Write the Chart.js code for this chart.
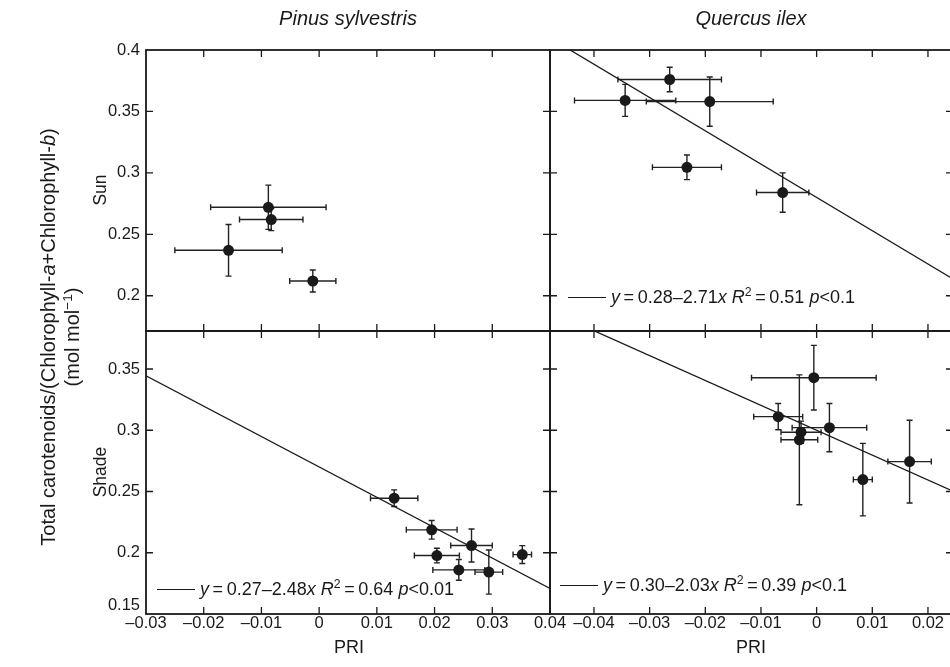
<!DOCTYPE html>
<html>
<head>
<meta charset="utf-8">
<script src="https://cdn.jsdelivr.net/npm/chart.js@4.4.1/dist/chart.umd.min.js"></script>
<style>
  html, body { margin:0; padding:0; background:#fff; width:950px; height:667px; overflow:hidden; }
  canvas { position:absolute; left:0; top:0; pointer-events:none; }
  .t { position:absolute; font-family:"Liberation Sans", Arial, Helvetica, sans-serif; color:#1a1a1a; white-space:nowrap; line-height:1; }
  .c { transform:translate(-50%,-50%); }
  .r { transform:translate(-50%,-50%) rotate(-90deg); text-align:center; }
  .leg { transform:translateY(-50%); font-size:18px; }
  .leg .ln { display:inline-block; width:38px; border-top:1.3px solid #1a1a1a; vertical-align:middle; margin-right:5px; position:relative; top:-1px; }
  sup { font-size:0.68em; line-height:0; vertical-align:0.55em; }
</style>
</head>
<body>
<canvas id="tl" width="960" height="667"></canvas>
<canvas id="tr" width="960" height="667"></canvas>
<canvas id="bl" width="960" height="667"></canvas>
<canvas id="br" width="960" height="667"></canvas>

<div class="t c" style="left:348px;top:18px;font-size:20px;font-style:italic;">Pinus sylvestris</div>
<div class="t c" style="left:751px;top:18px;font-size:20px;font-style:italic;">Quercus ilex</div>
<div class="t r" style="left:101px;top:190px;font-size:17.5px;">Sun</div>
<div class="t r" style="left:101px;top:472px;font-size:17.5px;">Shade</div>
<div class="t r" style="left:60px;top:337px;font-size:20px;line-height:24px;">Total carotenoids/(Chlorophyll-<i>a</i>+Chlorophyll-<i>b</i>)<br>(mol mol<sup>−1</sup>)</div>
<div class="t c" style="left:349px;top:647px;font-size:18px;">PRI</div>
<div class="t c" style="left:751px;top:647px;font-size:18px;">PRI</div>

<div id="leg_tr" class="t leg" style="left:568px;top:297px;"></div>
<div id="leg_bl" class="t leg" style="left:157px;top:589px;"></div>
<div id="leg_br" class="t leg" style="left:560px;top:585px;"></div>

<script>
// ---------- tick values and labels ----------
const pinusXTicks = [-0.03, -0.02, -0.01, 0, 0.01, 0.02, 0.03, 0.04];
const pinusXTickLabels = ['–0.03', '–0.02', '–0.01', '0', '0.01', '0.02', '0.03', '0.04'];
const quercusXTicks = [-0.04, -0.03, -0.02, -0.01, 0, 0.01, 0.02];
const quercusXTickLabels = ['–0.04', '–0.03', '–0.02', '–0.01', '0', '0.01', '0.02'];
const sunYTicks = [0.2, 0.25, 0.3, 0.35, 0.4];
const sunYTickLabels = ['0.2', '0.25', '0.3', '0.35', '0.4'];
const shadeYTicks = [0.15, 0.2, 0.25, 0.3, 0.35];
const shadeYTickLabels = ['0.15', '0.2', '0.25', '0.3', '0.35'];

// ---------- axis ranges ----------
const pinusXRange = [-0.03, 0.04];
const quercusXRange = [-0.0479, 0.0245];
const sunYRange = [0.1713, 0.4];
const shadeYRange = [0.15, 0.381];

// ---------- data: Pinus sylvestris, sun ----------
const pinusSunPRI    = [-0.0088, -0.0083, -0.0157, -0.0011];
const pinusSunPRIErr = [0.0100, 0.0055, 0.0093, 0.0040];
const pinusSunCar    = [0.272, 0.262, 0.237, 0.212];
const pinusSunCarErr = [0.018, 0.009, 0.021, 0.009];

// ---------- data: Quercus ilex, sun ----------
const quercusSunPRI    = [-0.0264, -0.0344, -0.0192, -0.0233, -0.0061];
const quercusSunPRIErr = [0.0093, 0.0091, 0.0114, 0.0062, 0.0047];
const quercusSunCar    = [0.376, 0.359, 0.358, 0.3045, 0.284];
const quercusSunCarErr = [0.010, 0.013, 0.020, 0.010, 0.016];

// ---------- data: Pinus sylvestris, shade ----------
const pinusShadePRI    = [0.0130, 0.0195, 0.0204, 0.0264, 0.0242, 0.0294, 0.0352];
const pinusShadePRIErr = [0.0041, 0.0044, 0.0039, 0.0036, 0.0045, 0.0024, 0.0016];
const pinusShadeCar    = [0.2445, 0.2187, 0.1977, 0.2059, 0.1860, 0.1842, 0.1985];
const pinusShadeCarErr = [0.0068, 0.0076, 0.0060, 0.0135, 0.0085, 0.0180, 0.0073];

// ---------- data: Quercus ilex, shade ----------
const quercusShadePRI    = [-0.0005, -0.0069, -0.0028, -0.0031, 0.0023, 0.0083, 0.0167];
const quercusShadePRIErr = [0.0112, 0.0044, 0.0036, 0.0033, 0.0067, 0.0017, 0.0039];
const quercusShadeCar    = [0.3429, 0.3111, 0.2984, 0.2922, 0.3021, 0.2597, 0.2744];
const quercusShadeCarErr = [0.0264, 0.0107, 0.0090, 0.0530, 0.0197, 0.0296, 0.0338];

// ---------- regressions (intercept, slope) and stats (R2, p) ----------
const regQuercusSun   = [0.28, -2.71];
const regPinusShade   = [0.27, -2.48];
const regQuercusShade = [0.30, -2.03];
const statsQuercusSun   = ['0.51', '<0.1'];
const statsPinusShade   = ['0.64', '<0.01'];
const statsQuercusShade = ['0.39', '<0.1'];

const FONT = '"Liberation Sans", Arial, Helvetica, sans-serif';
const INK = '#1a1a1a';
const CW = 960, CH = 667;
const Y_W = 60, X_H = 30;
const TICK = 7;
const TICK_FONT = 16.5;

const panels = [
  { id:'tl', area:{left:146, top:50, right:550, bottom:331}, showX:false, showY:true,
    xTicks:pinusXTicks, xLabels:pinusXTickLabels, xRange:pinusXRange,
    yTicks:sunYTicks, yLabels:sunYTickLabels, yRange:sunYRange,
    px:pinusSunPRI, ex:pinusSunPRIErr, py:pinusSunCar, ey:pinusSunCarErr, reg:null },
  { id:'tr', area:{left:550, top:50, right:953, bottom:331}, showX:false, showY:false,
    xTicks:quercusXTicks, xLabels:quercusXTickLabels, xRange:quercusXRange,
    yTicks:sunYTicks, yLabels:sunYTickLabels, yRange:sunYRange,
    px:quercusSunPRI, ex:quercusSunPRIErr, py:quercusSunCar, ey:quercusSunCarErr, reg:regQuercusSun },
  { id:'bl', area:{left:146, top:331, right:550, bottom:614}, showX:true, showY:true,
    xTicks:pinusXTicks, xLabels:pinusXTickLabels, xRange:pinusXRange,
    yTicks:shadeYTicks, yLabels:shadeYTickLabels, yRange:shadeYRange,
    px:pinusShadePRI, ex:pinusShadePRIErr, py:pinusShadeCar, ey:pinusShadeCarErr, reg:regPinusShade,
    liftBottomLabel:9 },
  { id:'br', area:{left:550, top:331, right:953, bottom:614}, showX:true, showY:false,
    xTicks:quercusXTicks, xLabels:quercusXTickLabels, xRange:quercusXRange,
    yTicks:shadeYTicks, yLabels:shadeYTickLabels, yRange:shadeYRange,
    px:quercusShadePRI, ex:quercusShadePRIErr, py:quercusShadeCar, ey:quercusShadeCarErr, reg:regQuercusShade }
];

function build(p) {
  const datasets = [];
  if (p.reg) {
    const b = p.reg[0], m = p.reg[1];
    const x0 = p.xRange[0], x1 = p.xRange[1];
    datasets.push({
      showLine:true, data:[{x:x0, y:b + m*x0}, {x:x1, y:b + m*x1}],
      borderColor:INK, borderWidth:1.3, pointRadius:0, clip:0, order:2
    });
  }
  datasets.push({
    data: p.px.map((x, i) => ({x:x, y:p.py[i]})),
    pointRadius:5.5, pointBackgroundColor:INK, pointBorderWidth:0, pointBorderColor:INK, order:1, clip:false
  });

  const errPlugin = {
    id:'errbars',
    beforeDatasetsDraw(chart) {
      const xs = chart.scales.x, ys = chart.scales.y, ctx = chart.ctx;
      ctx.save();
      ctx.strokeStyle = '#222';
      ctx.lineWidth = 1.4;
      const cap = 3;
      p.px.forEach((xv, i) => {
        const yv = p.py[i];
        const cx = xs.getPixelForValue(xv), cy = ys.getPixelForValue(yv);
        const xl = xs.getPixelForValue(xv - p.ex[i]), xr = xs.getPixelForValue(xv + p.ex[i]);
        const yt = ys.getPixelForValue(yv + p.ey[i]), yb = ys.getPixelForValue(yv - p.ey[i]);
        ctx.beginPath();
        ctx.moveTo(xl, cy); ctx.lineTo(xr, cy);
        ctx.moveTo(xl, cy - cap); ctx.lineTo(xl, cy + cap);
        ctx.moveTo(xr, cy - cap); ctx.lineTo(xr, cy + cap);
        ctx.moveTo(cx, yt); ctx.lineTo(cx, yb);
        ctx.moveTo(cx - cap, yt); ctx.lineTo(cx + cap, yt);
        ctx.moveTo(cx - cap, yb); ctx.lineTo(cx + cap, yb);
        ctx.stroke();
      });
      ctx.restore();
    }
  };

  const framePlugin = {
    id:'frame',
    beforeDraw(chart) {
      if (!p.liftBottomLabel || !p.showY) return;
      const items = chart.scales.y.getLabelItems();
      items.forEach(it => {
        if (it.label === p.yLabels[0] && !it._lifted) {
          it.options.translation[1] -= p.liftBottomLabel;
          it._lifted = true;
        }
      });
    },
    afterDraw(chart) {
      const xs = chart.scales.x, ys = chart.scales.y, ctx = chart.ctx;
      const a = chart.chartArea;
      ctx.save();
      ctx.strokeStyle = INK;
      ctx.lineWidth = 1.8;
      ctx.strokeRect(a.left, a.top, a.right - a.left, a.bottom - a.top);
      ctx.lineWidth = 1.3;
      ctx.beginPath();
      p.xTicks.forEach(v => {
        const px = xs.getPixelForValue(v);
        if (px <= a.left + 1 || px >= a.right - 1) return;
        ctx.moveTo(px, a.top); ctx.lineTo(px, a.top + TICK);
        ctx.moveTo(px, a.bottom); ctx.lineTo(px, a.bottom - TICK);
      });
      p.yTicks.forEach(v => {
        const py = ys.getPixelForValue(v);
        if (py <= a.top + 1 || py >= a.bottom - 1) return;
        ctx.moveTo(a.left, py); ctx.lineTo(a.left + TICK, py);
        ctx.moveTo(a.right, py); ctx.lineTo(a.right - TICK, py);
      });
      ctx.stroke();
      ctx.restore();
    }
  };

  const xScale = {
    type:'linear', min:p.xRange[0], max:p.xRange[1], display:p.showX,
    afterBuildTicks: s => { s.ticks = p.xTicks.map(v => ({value:v})); },
    grid:{display:false, drawTicks:false}, border:{display:false},
    ticks:{autoSkip:false, maxRotation:0, minRotation:0, padding:0, color:INK,
           font:{family:FONT, size:TICK_FONT}, callback:(v, i) => p.xLabels[i]}
  };
  if (p.showX) xScale.afterFit = s => { s.height = X_H; };
  const yScale = {
    type:'linear', min:p.yRange[0], max:p.yRange[1], display:p.showY,
    afterBuildTicks: s => { s.ticks = p.yTicks.map(v => ({value:v})); },
    grid:{display:false, drawTicks:false}, border:{display:false},
    ticks:{autoSkip:false, padding:6, color:INK,
           font:{family:FONT, size:TICK_FONT}, callback:(v, i) => p.yLabels[i]}
  };
  if (p.showY) yScale.afterFit = s => { s.width = Y_W; };

  new Chart(document.getElementById(p.id), {
    type:'scatter',
    data:{datasets},
    options:{
      responsive:false, animation:false, devicePixelRatio:1, events:[],
      layout:{padding:{
        left: p.area.left - (p.showY ? Y_W : 0),
        top: p.area.top,
        right: CW - p.area.right,
        bottom: CH - p.area.bottom - (p.showX ? X_H : 0)
      }},
      plugins:{legend:{display:false}, tooltip:{enabled:false}},
      scales:{x:xScale, y:yScale}
    },
    plugins:[errPlugin, framePlugin]
  });
}

panels.forEach(build);

// ---------- regression legends ----------
function legendHTML(reg, stats) {
  const b = reg[0].toFixed(2), m = Math.abs(reg[1]).toFixed(2);
  const sign = reg[1] < 0 ? '–' : '+';
  return '<span class="ln"></span><i>y</i>\u2009=\u2009' + b + sign + m + '<i>x</i> <i>R</i><sup>2</sup>\u2009=\u2009' +
         stats[0] + ' <i>p</i>' + stats[1].replace('<', '&lt;');
}
document.getElementById('leg_tr').innerHTML = legendHTML(regQuercusSun, statsQuercusSun);
document.getElementById('leg_bl').innerHTML = legendHTML(regPinusShade, statsPinusShade);
document.getElementById('leg_br').innerHTML = legendHTML(regQuercusShade, statsQuercusShade);
</script>
</body>
</html>
